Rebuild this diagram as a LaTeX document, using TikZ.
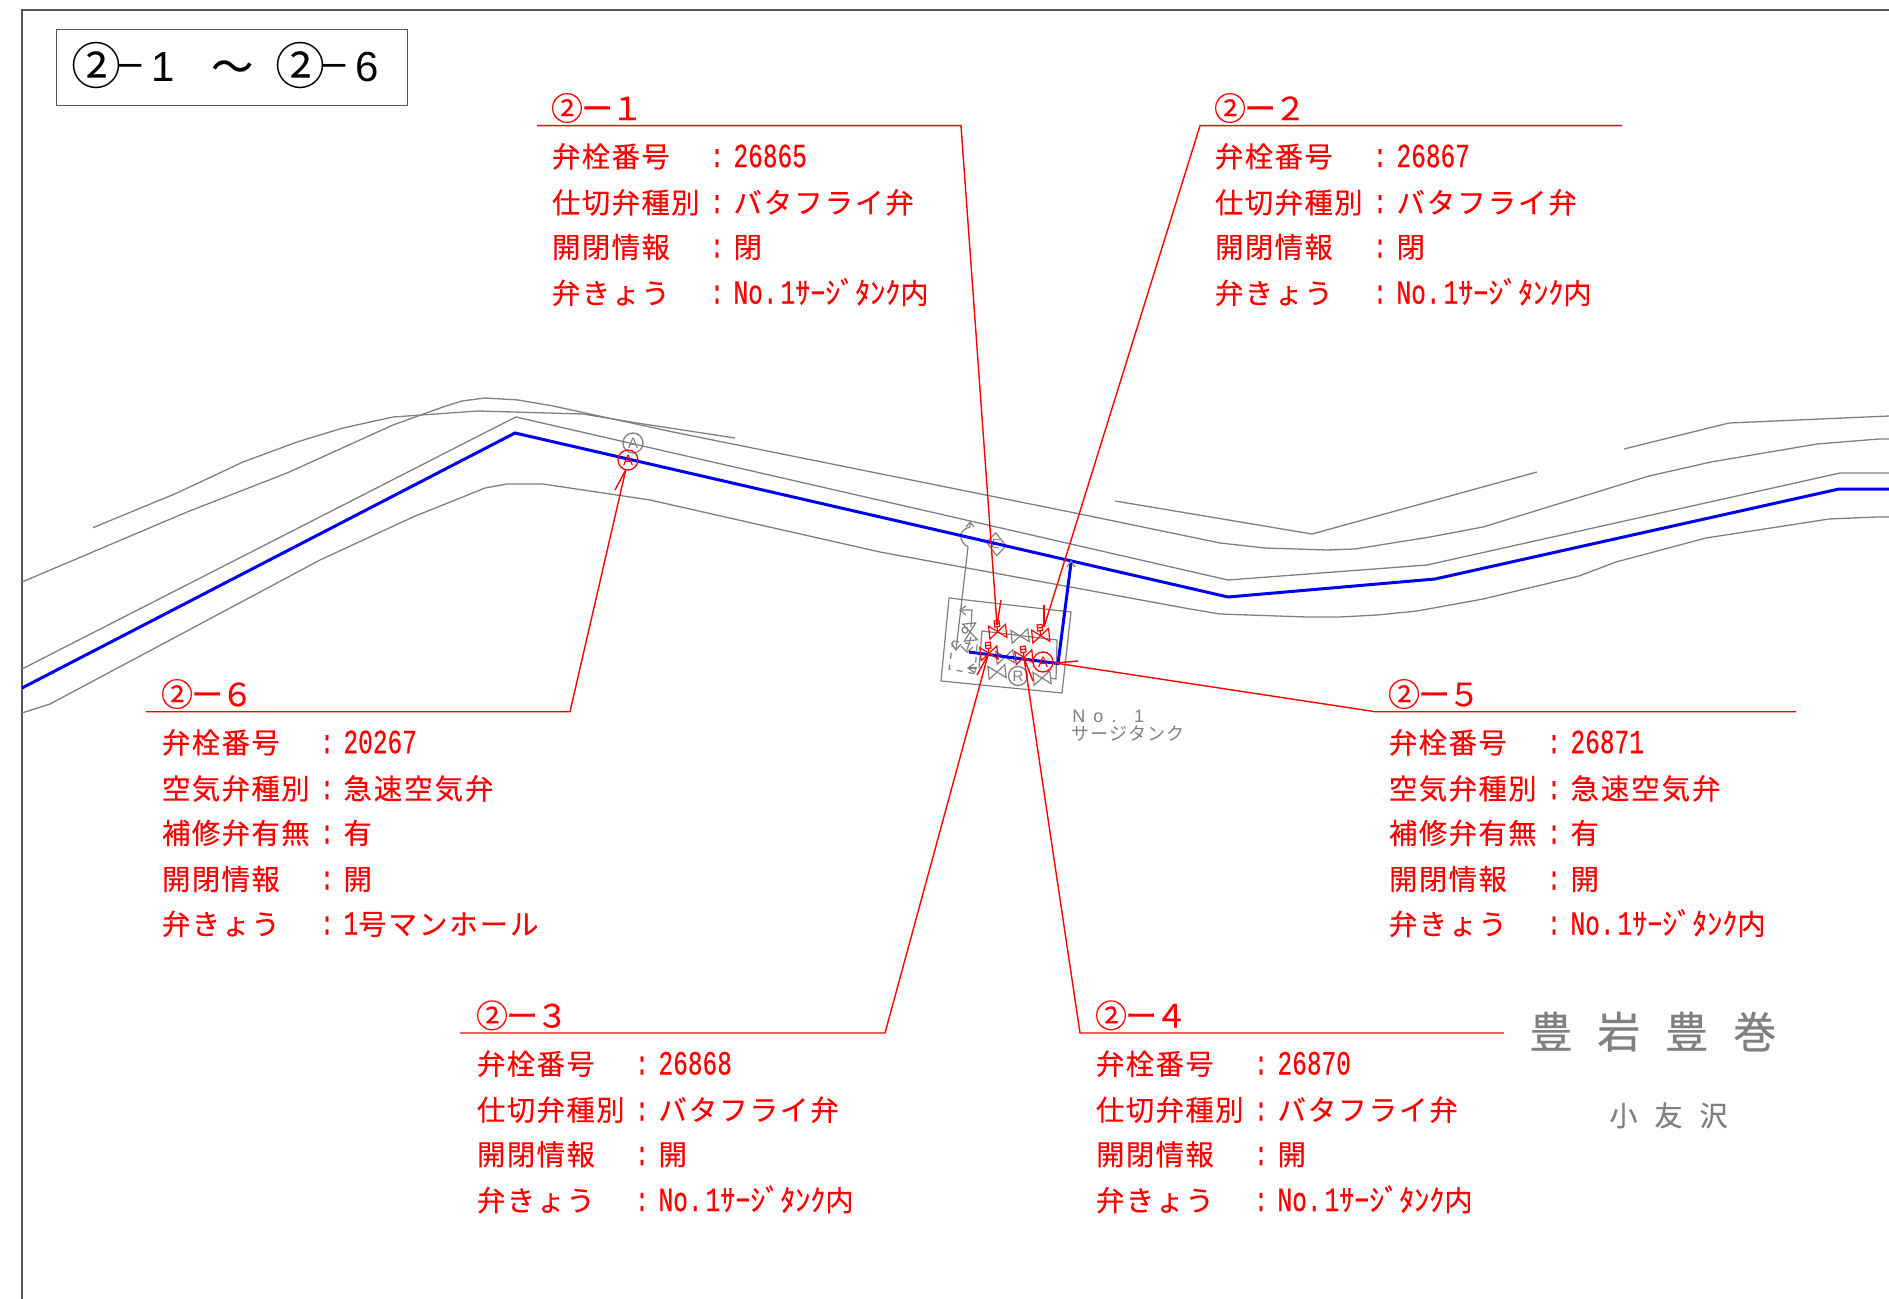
\documentclass[tikz,border=0pt]{standalone}
\usepackage{fontspec}
\setmainfont{Noto Sans CJK JP}
\newfontfamily\bodyjp[LetterSpace=5,FakeBold=0.25]{Noto Sans CJK JP}
\newfontfamily\valjp[LetterSpace=7,FakeBold=0.25]{Noto Sans CJK JP}
\newfontfamily\plainjp{Noto Sans CJK JP}
\newfontfamily\kanajp[FakeBold=0.25]{Noto Sans CJK JP}
\newfontfamily\headjp[LetterSpace=-6,FakeBold=0.15]{Noto Sans CJK JP}
\newfontfamily\monolat[FakeStretch=0.72,FakeBold=0.3]{Liberation Mono}
\newfontfamily\sanslat{Liberation Sans}
\newfontfamily\bigspaced[LetterSpace=58,FakeBold=0.5]{Noto Sans CJK JP}
\newfontfamily\midspaced[LetterSpace=61,FakeBold=0.4]{Noto Sans CJK JP}
\newfontfamily\tankspaced[LetterSpace=7]{Noto Sans CJK JP}
\newfontfamily\nospaced[LetterSpace=45]{Liberation Sans}
\newcommand{\bd}[1]{{\fontsize{14.2}{16}\bodyjp #1}}
\newcommand{\vl}[1]{{\fontsize{14.2}{16}\valjp #1}}
\newcommand{\mnum}[1]{{\fontsize{17}{18}\monolat #1}}
\newcommand{\hk}[1]{{\fontsize{15}{16}\kanajp #1}}
\newcommand{\tnk}{\mnum{No.}\hspace{1.5pt}\mnum{1}\hk{ｻｰｼﾞﾀﾝｸ}\bd{内}}
\def\cdx{165}\def\vdx{181.5}
\newcommand{\vrow}[5]{%
  \node[txt] (#1l) at (#2,#3) {\bd{#4}};
  \node[txt,anchor=base] (#1c) at (#2+\cdx,#3) {\mnum{:}};
  \node[txt] (#1v) at (#2+\vdx,#3) {#5};
}
% id, x, leader y, title digit, number, type, state, last
\newcommand{\blockfour}[8]{%
  \node[txt] (#1t) at (#2-1,#3-5.5) {{\fontsize{16}{16}\headjp ②ー#4}};
  \vrow{#1a}{#2}{#3+41.5}{弁栓番号}{\mnum{#5}}
  \vrow{#1b}{#2}{#3+87.5}{仕切弁種別}{\vl{#6}}
  \vrow{#1d}{#2}{#3+132}{開閉情報}{\vl{#7}}
  \vrow{#1e}{#2}{#3+178}{弁きょう}{#8}
}
\newcommand{\blockfive}[6]{%
  \node[txt] (#1t) at (#2-1,#3-5.5) {{\fontsize{16}{16}\headjp ②ー#4}};
  \vrow{#1a}{#2}{#3+41.5}{弁栓番号}{\mnum{#5}}
  \vrow{#1b}{#2}{#3+87.5}{空気弁種別}{\vl{急速空気弁}}
  \vrow{#1d}{#2}{#3+132}{補修弁有無}{\vl{有}}
  \vrow{#1e}{#2}{#3+178}{開閉情報}{\vl{開}}
  \vrow{#1f}{#2}{#3+223}{弁きょう}{#6}
}
% colour, x, y, rotation
\newcommand{\btie}[4]{%
  \draw[#1,line width=.6pt,line join=miter,shift={(#2,#3)},rotate=#4]
    (-8.5,-6.5)--(8.5,6.5)--(8.5,-6.5)--(-8.5,6.5)--cycle;
}
\newcommand{\rvalve}[2]{%
  \btie{red}{#1}{#2}{6}
  \draw[red,line width=.6pt,shift={(#1,#2)},rotate=6]
    (0,0)--(0,-5) (-2.5,-5) rectangle (2.5,-11) (-2.5,-8)--(2.5,-8);
}
\definecolor{roadgray}{HTML}{808080}
\definecolor{pipeblue}{HTML}{0000F0}
\definecolor{framegray}{HTML}{555555}
\tikzset{
  txt/.style={inner sep=0pt,outer sep=0pt,anchor=base west,text=red},
  road/.style={draw=roadgray,line width=.65pt,line join=round},
  pipe/.style={draw=pipeblue,line width=1.5pt,line join=miter},
  lead/.style={draw=red,line width=.7pt,line join=miter},
  tick/.style={draw=red,line width=.7pt},
  det/.style={draw=roadgray,line width=.6pt},
  circA/.style={circle,draw,line width=.65pt,minimum size=10pt,inner sep=0pt,font=\fontsize{7.5}{8}\sanslat},
}
\begin{document}
\begin{tikzpicture}[x=.5pt,y=-.5pt]
\useasboundingbox (0,0) rectangle (1889,1299);
\fill[white] (0,0) rectangle (1889,1299);
% frame
\draw[framegray,line width=.85pt] (22,1299)--(22,10)--(1889,10);
\node[draw=framegray,line width=.65pt,minimum width=175.5pt,minimum height=38pt,inner sep=0pt,anchor=north west] (ttl) at (56,29) {};
\node[inner sep=0pt,anchor=base west,text=black] (ttltext) at (71,82) {\raisebox{-1.5pt}{\fontsize{25}{26}\plainjp ②}\hspace{-1.5pt}\raisebox{2.5pt}{\fontsize{21}{24}\sanslat –}\hspace{5pt}{\fontsize{21}{24}\sanslat 1}\hspace{18pt}{\fontsize{21}{24}\kanajp ～}\hspace{11pt}\raisebox{-1.5pt}{\fontsize{25}{26}\plainjp ②}\hspace{-1.5pt}\raisebox{2.5pt}{\fontsize{21}{24}\sanslat –}\hspace{5pt}{\fontsize{21}{24}\sanslat 6}};
% roads
\draw[road] (93,527.7)--(177,493)--(243,462)--(297,442)--(343,428)--(393,417)--(478,411)--(583,414)--(637,423)--(735,438);
\draw[road] (22,582)--(187,512)--(287,473)--(393,425)--(443,407)--(462,401)--(485,398)--(518,400)--(553,406)--(673,432)--(1080,514)--(1220,543)--(1265,548)--(1327,550)--(1355,549)--(1430,537)--(1483,527)--(1649,476)--(1711,462)--(1817,444)--(1879,439)--(1889,439);
\draw[road] (22,669)--(500,425)--(516,417)--(1228,580)--(1427,565)--(1840,473)--(1889,473);
\draw[road] (22,713)--(50,704)--(217,615)--(320,560)--(413,517)--(485,488)--(507,484)--(543,484)--(650,500)--(880,552)--(1190,609)--(1220,614)--(1307,617)--(1340,617)--(1377,615)--(1417,611)--(1483,599)--(1579,576)--(1616,562)--(1706,538)--(1829,519)--(1876,517)--(1889,517);
\draw[road] (1115,501)--(1312,534)--(1537,472);
\draw[road] (1624,449)--(1729,423)--(1889,416);
% tank details
\draw[det] (949,598)--(1071,612)--(1062,693)--(941,681)--cycle;
\draw[det] (956,650)--(968,547) .. controls (958,541) and (958,530) .. (970,527)--(970,522);
\draw[det] (966,527)--(970,522)--(974,527);
\draw[det] (951,643)--(956,650)--(961,644);
\draw[det] (960,610)--(972,610)--(971,627);
\draw[det] (966,606)--(960,610)--(966,615);
\draw[det] (971,637)--(967,650);
\draw[det] (961,646)--(967,652)--(973,647);
\draw[det] (965,630) circle (3);
\draw[det,dashed] (953,641)--(949,669)--(976,674);
\draw[det,dashed] (953,641)--(977,645)--(975,672);
\draw[det] (969,668)--(977,668);
\draw[det] (974,664)--(968,668)--(975,673);
\draw[det] (979,668)--(982,631)--(1057,640)--(1056,679)--(1050,678);
\btie{roadgray}{1020}{636}{6}
\btie{roadgray}{1005}{657}{6}
\btie{roadgray}{997}{672}{6}
\btie{roadgray}{1042}{678}{6}
\btie{roadgray}{970}{632}{96}
\node[circA,draw=roadgray,text=roadgray,minimum size=9.5pt,font=\fontsize{7.5}{8}\sanslat] (rmark) at (1018,676) {R};
\draw[det] (995.7,532.7)--(1006,546)--(996.7,555.7)--(986.7,542.3)--cycle;
\node[inner sep=0pt,text=roadgray,font=\fontsize{6.5}{7}\sanslat,rotate=-10] (emark) at (996,544) {E};
\node[circA,draw=roadgray,text=roadgray] (agray) at (633,443) {A};
% pipe
\draw[pipe] (22,688)--(515,433)--(1228,597)--(1435,579)--(1839,489)--(1889,489);
\draw[pipe] (969,652)--(1058,663.5)--(1071,563);
\draw[det] (1067,567)--(1071,561)--(1075,567);
% red symbols
\rvalve{997.7}{631.7}
\rvalve{1040.7}{635.7}
\rvalve{989}{653.3}
\rvalve{1024}{657.3}
\node[circA,draw=red,text=red] (ared) at (628,460) {A};
\node[circA,draw=red,text=red] (atank) at (1043,662) {A};
% leaders
\coordinate (t1) at (997,625);
\coordinate (t2) at (1044,627);
\coordinate (t3) at (988,655);
\coordinate (t4) at (1024,658);
\coordinate (t5) at (1055,663);
\coordinate (t6) at (625.7,470);
\coordinate (s1) at (537,125.7); \coordinate (e1) at (961,125.7);
\coordinate (s2) at (1622,125.7); \coordinate (e2) at (1200,125.7);
\coordinate (s3) at (460,1033); \coordinate (e3) at (885,1033);
\coordinate (s4) at (1504,1033); \coordinate (e4) at (1080,1033);
\coordinate (s5) at (1796,711.7); \coordinate (e5) at (1375,711.7);
\coordinate (s6) at (146,711.7); \coordinate (e6) at (570,711.7);
\draw[lead] (s1)--(e1)--(t1);
\draw[lead] (s2)--(e2)--(t2);
\draw[lead] (s3)--(e3)--(t3);
\draw[lead] (s4)--(e4)--(t4);
\draw[lead] (s5)--(e5)--(t5);
\draw[lead] (s6)--(e6)--(t6);
\coordinate (w1) at (1001,600);
\coordinate (w2) at (1044,605);
\coordinate (w3) at (977,675);
\coordinate (w4) at (1033,681);
\coordinate (w5) at (1078,661);
\coordinate (w6) at (615,490);
\draw[tick] (t1)--(w1);
\draw[tick] (t2)--(w2);
\draw[tick] (t3)--(w3);
\draw[tick] (t4)--(w4);
\draw[tick] (t5)--(w5);
\draw[tick] (t6)--(w6);
% callouts
\blockfour{p}{552}{125.7}{１}{26865}{バタフライ弁}{閉}{\tnk}
\blockfour{q}{1215}{125.7}{２}{26867}{バタフライ弁}{閉}{\tnk}
\blockfour{r}{477}{1033}{３}{26868}{バタフライ弁}{開}{\tnk}
\blockfour{s}{1096}{1033}{４}{26870}{バタフライ弁}{開}{\tnk}
\blockfive{u}{1389}{711.7}{５}{26871}{\tnk}
\blockfive{v}{162}{711.7}{６}{20267}{\mnum{1}\vl{号マンホール}}
% place names
\node[inner sep=0pt,anchor=base west,text=roadgray] (nm1) at (1529,1048) {\fontsize{21.5}{24}\bigspaced 豊岩豊巻};
\node[inner sep=0pt,anchor=base west,text=roadgray] (nm2) at (1609,1126) {\fontsize{14}{16}\midspaced 小友沢};
\node[inner sep=0pt,anchor=base west,text=roadgray] (nm3) at (1072,722) {\fontsize{9}{10}\nospaced No. 1};
\node[inner sep=0pt,anchor=base west,text=roadgray] (nm4) at (1071,740) {\fontsize{9}{10}\tankspaced サージタンク};
\end{tikzpicture}
\end{document}
